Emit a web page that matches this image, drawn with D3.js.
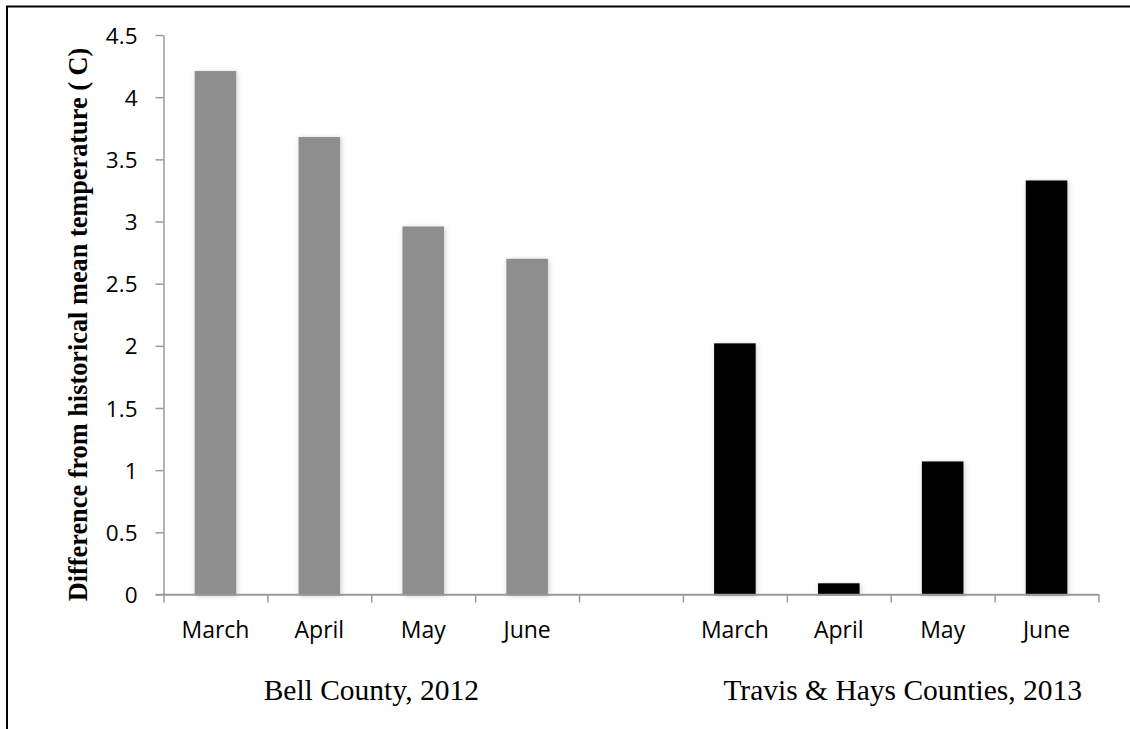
<!DOCTYPE html>
<html>
<head>
<meta charset="utf-8">
<script src="https://cdn.jsdelivr.net/npm/d3@7"></script>
<style>
  html, body { margin: 0; padding: 0; background: #fff; }
  svg { display: block; }
</style>
</head>
<body>
<script>
// ---- data ----
const categories = ["March", "April", "May", "June", "", "March", "April", "May", "June"];
const bellMonths = [0, 1, 2, 3];       // category indices of Bell County bars
const bellValues = [4.21, 3.68, 2.96, 2.70];
const travisMonths = [5, 6, 7, 8];     // category indices of Travis & Hays bars
const travisValues = [2.02, 0.09, 1.07, 3.33];
const yTicks = [0, 0.5, 1, 1.5, 2, 2.5, 3, 3.5, 4, 4.5];
const groupLabels = ["Bell County, 2012", "Travis & Hays Counties, 2013"];
const yTitle = "Difference from historical mean temperature ( C)";

const W = 1130, H = 729;
const svg = d3.select("body").append("svg").attr("width", W).attr("height", H);

// frame
svg.append("rect").attr("x", 7).attr("y", 6.5).attr("width", 1300).attr("height", 900)
  .attr("fill", "none").attr("stroke", "#000").attr("stroke-width", 2);

const defs = svg.append("defs");
const f = defs.append("filter").attr("id", "sh").attr("x", "-30%").attr("y", "-10%").attr("width", "160%").attr("height", "120%");
f.append("feDropShadow").attr("dx", 1).attr("dy", 1).attr("stdDeviation", 2.5)
  .attr("flood-color", "#000").attr("flood-opacity", 0.22);

const x0 = 163.5, x1 = 1098.5, yTop = 35, yBot = 594.5;
const idx = d3.range(categories.length);
const x = d3.scaleBand().domain(idx).range([x0, x1]).paddingInner(0).paddingOuter(0);
const xb = d3.scaleLinear().domain([0, categories.length]).range([x0, x1]);
const y = d3.scaleLinear().domain([0, 4.5]).range([yBot, yTop]);

const axisColor = "#9a9a9a";

// y axis
const gy = svg.append("g").attr("transform", `translate(${x0},0)`)
  .call(d3.axisLeft(y).tickValues(yTicks).tickSize(8).tickSizeOuter(0).tickPadding(18)
    .tickFormat(d => String(d)));
gy.select(".domain").attr("stroke", axisColor).attr("stroke-width", 1.5);
gy.selectAll(".tick line").attr("stroke", axisColor).attr("stroke-width", 1.5);
gy.selectAll(".tick text").attr("font-family", "'Open Sans', sans-serif").attr("font-size", 22.5)
  .attr("fill", "#000").attr("dy", "0.36em");

// x axis boundary ticks
const gxb = svg.append("g").attr("transform", `translate(0,${yBot})`)
  .call(d3.axisBottom(xb).tickValues(d3.range(categories.length + 1)).tickSize(8).tickSizeOuter(0).tickFormat(""));
gxb.select(".domain").attr("stroke", axisColor).attr("stroke-width", 1.5);
gxb.selectAll(".tick line").attr("stroke", axisColor).attr("stroke-width", 1.5);

// x labels
const gx = svg.append("g").attr("transform", `translate(0,${yBot})`)
  .call(d3.axisBottom(x).tickSize(0).tickPadding(27).tickFormat(i => categories[i]));
gx.select(".domain").remove();
gx.selectAll(".tick text").attr("font-family", "'Open Sans', sans-serif").attr("font-size", 23).attr("fill", "#000");

// bars
const bw = x.bandwidth() / 2.5;
svg.append("g").selectAll("rect").data(bellValues).join("rect")
  .attr("x", (d, i) => x(bellMonths[i]) + (x.bandwidth() - bw) / 2)
  .attr("width", bw)
  .attr("y", d => y(d))
  .attr("height", d => y(0) - y(d))
  .attr("fill", "#8e8e8e")
  .attr("filter", "url(#sh)");
svg.append("g").selectAll("rect").data(travisValues).join("rect")
  .attr("x", (d, i) => x(travisMonths[i]) + (x.bandwidth() - bw) / 2)
  .attr("width", bw)
  .attr("y", d => y(d))
  .attr("height", d => y(0) - y(d))
  .attr("fill", "#000")
  .attr("filter", "url(#sh)");

// redraw baseline over bars
svg.append("line").attr("x1", x0 - 8).attr("x2", x1).attr("y1", yBot).attr("y2", yBot)
  .attr("stroke", axisColor).attr("stroke-width", 1.5);

// group labels
const bellCenter = (x(bellMonths[0]) + x(bellMonths[3]) + x.bandwidth()) / 2;
const travisCenter = (x(travisMonths[0]) + x(travisMonths[3]) + x.bandwidth()) / 2 + 12;
svg.append("text").attr("x", bellCenter).attr("y", 700).attr("text-anchor", "middle")
  .attr("font-family", "'Liberation Serif', 'Times New Roman', serif").attr("font-size", 29.5)
  .text(groupLabels[0]);
svg.append("text").attr("x", travisCenter).attr("y", 700).attr("text-anchor", "middle")
  .attr("font-family", "'Liberation Serif', 'Times New Roman', serif").attr("font-size", 29.5)
  .text(groupLabels[1]);

// y title
svg.append("text").attr("transform", `translate(87,${(47 + 602) / 2}) rotate(-90)`)
  .attr("text-anchor", "middle")
  .attr("font-family", "'Liberation Serif', 'Times New Roman', serif").attr("font-size", 26.3)
  .attr("font-weight", "bold")
  .text(yTitle);
</script>
</body>
</html>
